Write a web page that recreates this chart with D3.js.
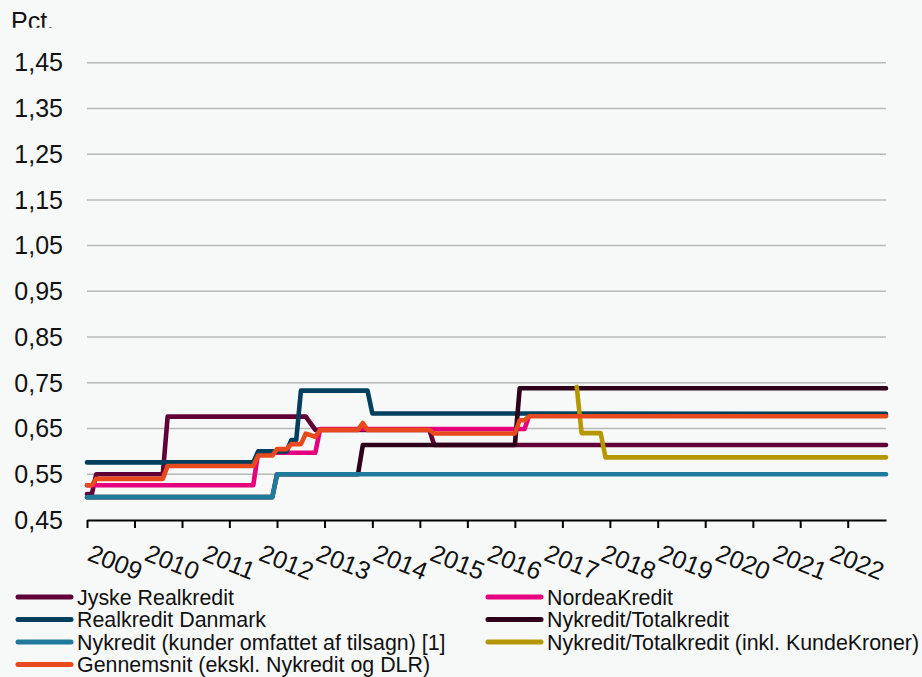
<!DOCTYPE html>
<html lang="da">
<head>
<meta charset="UTF-8">
<title>Bidragssatser</title>
<script src="https://d3js.org/d3.v7.min.js"></script>
<style>
  body { margin: 0; background: #f7f9f9; }
  svg { display: block; font-family: "Liberation Sans", Arial, sans-serif; }
  .grid line { stroke: #b8b8b8; stroke-width: 1.5px; }
  .series { fill: none; stroke-width: 4.6px; stroke-linejoin: round; stroke-linecap: round; }
</style>
</head>
<body>
<div id="chart"></div>
<script>
// values (pct.), change points by month
const jyske = [["2009-01",0.507],["2009-02",0.507],["2009-03",0.55],["2010-05",0.55],["2010-06",0.676],
  ["2012-11",0.676],["2013-01",0.647],["2015-01",0.647],["2015-02",0.614],["2023-01",0.614]];
const nordea = [["2009-01",0.526],["2011-12",0.526],["2012-01",0.597],["2013-01",0.597],["2013-02",0.649],
  ["2016-09",0.649],["2016-10",0.679],["2023-01",0.679]];
const realkredit = [["2009-01",0.576],["2011-12",0.576],["2012-01",0.60],["2012-07",0.60],["2012-08",0.625],
  ["2012-09",0.625],["2012-10",0.733],["2013-12",0.733],["2014-01",0.683],["2023-01",0.682]];
const nykTotal = [["2009-01",0.50],["2012-04",0.50],["2012-05",0.55],["2013-10",0.55],["2013-11",0.614],
  ["2016-07",0.614],["2016-08",0.738],["2023-01",0.738]];
const nykKunder = [["2009-01",0.50],["2012-04",0.50],["2012-05",0.55],["2023-01",0.55]];
const nykKunde = [["2017-08",0.741],["2017-09",0.64],["2018-01",0.64],["2018-02",0.587],["2023-01",0.587]];
const gennemsnit = [["2009-01",0.526],["2009-02",0.526],["2009-03",0.54],["2010-05",0.54],["2010-06",0.568],
  ["2011-12",0.568],["2012-01",0.591],["2012-04",0.591],["2012-05",0.605],["2012-07",0.605],["2012-08",0.616],
  ["2012-10",0.616],["2012-11",0.639],["2013-01",0.632],["2013-02",0.647],["2013-10",0.647],["2013-11",0.662],
  ["2013-12",0.647],["2015-01",0.647],["2015-02",0.639],["2016-07",0.639],["2016-08",0.668],["2016-09",0.668],
  ["2016-10",0.677],["2023-01",0.677]];

const names = ["Jyske Realkredit", "NordeaKredit", "Realkredit Danmark", "Nykredit/Totalkredit",
  "Nykredit (kunder omfattet af tilsagn) [1]", "Nykredit/Totalkredit (inkl. KundeKroner)",
  "Gennemsnit (ekskl. Nykredit og DLR)"];
const colors = ["#600036", "#e5007d", "#003f5e", "#2f0019", "#207a9c", "#b59800", "#e8491d"];
const seriesData = [jyske, nordea, realkredit, nykTotal, nykKunder, nykKunde, gennemsnit];

const years = d3.range(2009, 2023);
const yTicks = [0.45, 0.55, 0.65, 0.75, 0.85, 0.95, 1.05, 1.15, 1.25, 1.35, 1.45];

const W = 922, H = 677;
const margin = { top: 62.7, left: 87, right: 36, bottom: 157 };

const svg = d3.select("#chart").append("svg").attr("width", W).attr("height", H);

const x = d3.scaleUtc()
  .domain([new Date("2009-01-01"), new Date("2023-01-01")])
  .range([margin.left, W - margin.right]);
const y = d3.scaleLinear().domain([0.45, 1.45]).range([520, margin.top]);

const da = d3.formatLocale({ decimal: ",", thousands: ".", grouping: [3], currency: ["", " kr."] });
const fmt = da.format(".2f");

// "Pct." label, cut at the bottom like the reference
svg.append("clipPath").attr("id", "pctClip")
  .append("rect").attr("x", 0).attr("y", 0).attr("width", 120).attr("height", 27.7);
svg.append("text").attr("x", 11).attr("y", 29.5).attr("clip-path", "url(#pctClip)")
  .attr("font-size", 25).attr("fill", "#111").text("Pct.");

// gridlines
svg.append("g").attr("class", "grid")
  .selectAll("line").data(yTicks.slice(1)).join("line")
  .attr("x1", x.range()[0]).attr("x2", x.range()[1])
  .attr("y1", d => y(d)).attr("y2", d => y(d));

// y labels
svg.append("g").selectAll("text").data(yTicks).join("text")
  .attr("x", 63).attr("y", d => y(d)).attr("dy", "0.35em")
  .attr("text-anchor", "end").attr("font-size", 25).attr("fill", "#111")
  .text(d => fmt(d));

// x axis: ticks every 10 months, labels per year
const start = x.domain()[0];
const tickDates = d3.range(0, 161, 10).map(m => d3.utcMonth.offset(start, m));
const xAxis = svg.append("g").attr("transform", `translate(0,${y(0.45)})`)
  .call(d3.axisBottom(x).tickValues(tickDates).tickFormat("").tickSize(8).tickSizeOuter(0));
xAxis.select(".domain").attr("stroke", "#000").attr("stroke-width", 2);
xAxis.selectAll(".tick line").attr("stroke", "#000").attr("stroke-width", 2);

svg.append("g").selectAll("text").data(years).join("text")
  .attr("transform", d => `translate(${x(new Date(Date.UTC(d, 6, 1)))},562) rotate(22)`)
  .attr("text-anchor", "middle").attr("dy", "0.35em")
  .attr("font-size", 25).attr("fill", "#111")
  .text(d => d);

// series
const line = d3.line().x(d => x(new Date(d[0] + "-01"))).y(d => y(d[1]));
svg.append("g").selectAll("path").data(seriesData).join("path")
  .attr("class", "series")
  .attr("stroke", (d, i) => colors[i])
  .attr("d", line);

// legend
const legendPos = [[0, 0], [1, 0], [0, 1], [1, 1], [0, 2], [1, 2], [0, 3]];
const colX = [18, 488], rowY0 = 597, rowH = 22.5;
const leg = svg.append("g").selectAll("g").data(names).join("g")
  .attr("transform", (d, i) => `translate(${colX[legendPos[i][0]]},${rowY0 + legendPos[i][1] * rowH})`);
leg.append("line").attr("x1", 0).attr("x2", 53).attr("y1", 0).attr("y2", 0)
  .attr("stroke", (d, i) => colors[i]).attr("stroke-width", 5).attr("stroke-linecap", "round");
leg.append("text").attr("x", 59).attr("dy", "0.35em")
  .attr("font-size", 21.4).attr("fill", "#111").text(d => d);
</script>
</body>
</html>
